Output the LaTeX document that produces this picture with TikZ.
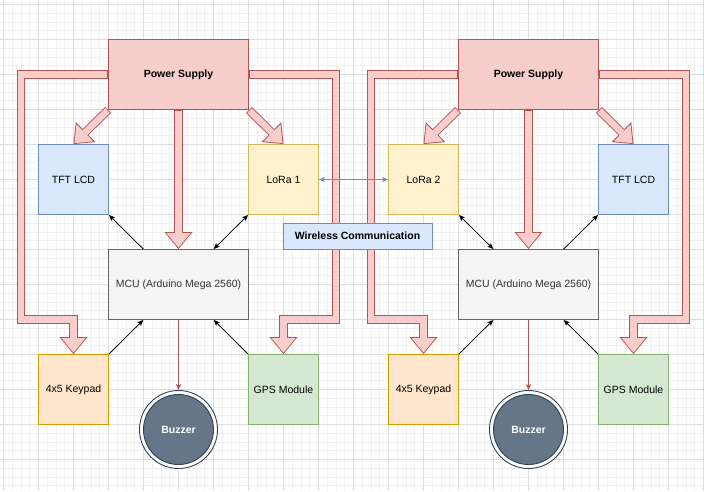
\documentclass[tikz,border=0pt]{standalone}
\usepackage{fontspec}
\setmainfont{Liberation Sans}
\usetikzlibrary{arrows.meta,calc}
\definecolor{psfill}{HTML}{F8CECC}\definecolor{psdraw}{HTML}{B85450}
\definecolor{bluefill}{HTML}{DAE8FC}\definecolor{bluedraw}{HTML}{6C8EBF}
\definecolor{yelfill}{HTML}{FFF2CC}\definecolor{yeldraw}{HTML}{D6B656}
\definecolor{orafill}{HTML}{FFE6CC}\definecolor{oradraw}{HTML}{D79B00}
\definecolor{grnfill}{HTML}{D5E8D4}\definecolor{grndraw}{HTML}{82B366}
\definecolor{mcufill}{HTML}{F5F5F5}\definecolor{mcudraw}{HTML}{666666}\definecolor{mcutext}{HTML}{333333}
\definecolor{bzfill}{HTML}{647687}\definecolor{bzdraw}{HTML}{314354}
\definecolor{gridminor}{HTML}{F0F0F0}\definecolor{gridmajor}{HTML}{DDDDDD}
\pgfdeclarelayer{gridlayer}\pgfdeclarelayer{flexlayer}
\pgfsetlayers{gridlayer,flexlayer,main}
\newcommand\flexarrow[1]{\draw[flexout] #1; \draw[flexin] #1;}
\tikzset{
  txt/.style={font=\fontsize{10.5}{12.6}\selectfont},
  box/.style={txt, draw, line width=0.9pt, minimum width=70pt, minimum height=70pt, inner sep=0pt, align=center},
  wide/.style={box, minimum width=140pt},
  psbox/.style={wide, fill=psfill, draw=psdraw, font=\fontsize{10.5}{12.6}\selectfont\bfseries},
  tftbox/.style={box, fill=bluefill, draw=bluedraw},
  lorabox/.style={box, fill=yelfill, draw=yeldraw},
  keybox/.style={box, fill=orafill, draw=oradraw},
  gpsbox/.style={box, fill=grnfill, draw=grndraw},
  mcubox/.style={wide, fill=mcufill, draw=mcudraw, text=mcutext},
  wcbox/.style={box, fill=bluefill, draw=bluedraw, minimum width=149pt, minimum height=26pt, font=\fontsize{10.5}{12.6}\selectfont\bfseries},
  bzouter/.style={circle, draw=bzdraw, fill=white, line width=0.9pt, minimum size=78pt, inner sep=0pt},
  bzinner/.style={circle, draw=bzdraw, fill=bzfill, line width=0.9pt, minimum size=70pt, inner sep=0pt, text=white, font=\fontsize{10.5}{12.6}\selectfont\bfseries},
  flexout/.style={draw=psdraw, line width=8.4pt, -{Triangle[length=17pt,width=28pt,line width=0pt]}},
  flexin/.style={draw=psfill, line width=6.6pt, shorten >=1.4pt, shorten <=0.9pt, -{Triangle[length=14.6pt,width=24pt,line width=0pt]}},
  thinarrow/.style={line width=0.8pt, -{Stealth[length=6pt,width=5pt,inset=1.5pt]}},
  twoway/.style={line width=0.8pt, {Stealth[length=6pt,width=5pt,inset=1.5pt]}-{Stealth[length=6pt,width=5pt,inset=1.5pt]}},
  gminor/.style={draw=gridminor, line width=0.6pt},
  gmajor/.style={draw=gridmajor, line width=0.7pt}
}
\begin{document}
\begin{tikzpicture}[x=1pt,y=-1pt]
\useasboundingbox (0,0) rectangle (704,491);
\begin{pgfonlayer}{gridlayer}
  \fill[white] (0,0) rectangle (704,491);
  \foreach \k in {0,...,80} \draw[gminor] ({3.5+8.75*\k},0) -- ++(0,491);
  \foreach \k in {0,...,55} \draw[gminor] (0,{4.5+8.75*\k}) -- ++(704,0);
  \foreach \k in {0,...,20} \draw[gmajor] ({3.5+35*\k},0) -- ++(0,491);
  \foreach \k in {0,...,13} \draw[gmajor] (0,{4.5+35*\k}) -- ++(704,0);
\end{pgfonlayer}

% ---- left system ----
\node[psbox] (psL) at (178.5,74.5) {Power Supply};
\node[tftbox] (tftL) at (73.5,179.5) {TFT LCD};
\node[lorabox] (loraL) at (283.5,179.5) {LoRa 1};
\node[mcubox] (mcuL) at (178.5,284.5) {MCU (Arduino Mega 2560)};
\node[keybox] (kpL) at (73.5,389.5) {4x5 Keypad};
\node[gpsbox] (gpsL) at (283.5,389.5) {GPS Module};
\node[bzouter] (bzoL) at (178.5,429.5) {};
\node[bzinner] (bzL) at (178.5,429.5) {Buzzer};

% ---- right system ----
\node[psbox] (psR) at (528.5,74.5) {Power Supply};
\node[lorabox] (loraR) at (423.5,179.5) {LoRa 2};
\node[tftbox] (tftR) at (633.5,179.5) {TFT LCD};
\node[mcubox] (mcuR) at (528.5,284.5) {MCU (Arduino Mega 2560)};
\node[keybox] (kpR) at (423.5,389.5) {4x5 Keypad};
\node[gpsbox] (gpsR) at (633.5,389.5) {GPS Module};
\node[bzouter] (bzoR) at (528.5,429.5) {};
\node[bzinner] (bzR) at (528.5,429.5) {Buzzer};

\node[wcbox] (wc) at (357.5,236) {Wireless Communication};

% corner coordinates of power routes
\coordinate (aL1) at (21,74.5);   \coordinate (aL2) at (21,319.5);   \coordinate (aL3) at (73.5,319.5);
\coordinate (bL1) at (336,74.5);  \coordinate (bL2) at (336,319.5);  \coordinate (bL3) at (283.5,319.5);
\coordinate (aR1) at (371,74.5);  \coordinate (aR2) at (371,319.5);  \coordinate (aR3) at (423.5,319.5);
\coordinate (bR1) at (686,74.5);  \coordinate (bR2) at (686,319.5);  \coordinate (bR3) at (633.5,319.5);

\begin{pgfonlayer}{flexlayer}
  \flexarrow{(psL.west) -- (aL1) -- (aL2) -- (aL3) -- (kpL.north)}
  \flexarrow{(psL.east) -- (bL1) -- (bL2) -- (bL3) -- (gpsL.north)}
  \flexarrow{(psL.south west) -- (tftL.north)}
  \flexarrow{(psL.south east) -- (loraL.north)}
  \flexarrow{(psL.south) -- (mcuL.north)}
  \flexarrow{(psR.west) -- (aR1) -- (aR2) -- (aR3) -- (kpR.north)}
  \flexarrow{(psR.east) -- (bR1) -- (bR2) -- (bR3) -- (gpsR.north)}
  \flexarrow{(psR.south west) -- (loraR.north)}
  \flexarrow{(psR.south east) -- (tftR.north)}
  \flexarrow{(psR.south) -- (mcuR.north)}
\end{pgfonlayer}

% thin connectors, left
\draw[thinarrow] ($(mcuL.north west)!0.25!(mcuL.north east)$) -- (tftL.south east);
\draw[twoway] ($(mcuL.north west)!0.75!(mcuL.north east)$) -- (loraL.south west);
\draw[thinarrow] (kpL.north east) -- ($(mcuL.south west)!0.25!(mcuL.south east)$);
\draw[thinarrow] (gpsL.north west) -- ($(mcuL.south west)!0.75!(mcuL.south east)$);
\draw[thinarrow, draw=psdraw] (mcuL.south) -- (bzoL.north);
% thin connectors, right
\draw[twoway] ($(mcuR.north west)!0.25!(mcuR.north east)$) -- (loraR.south east);
\draw[thinarrow] ($(mcuR.north west)!0.75!(mcuR.north east)$) -- (tftR.south west);
\draw[thinarrow] (kpR.north east) -- ($(mcuR.south west)!0.25!(mcuR.south east)$);
\draw[thinarrow] (gpsR.north west) -- ($(mcuR.south west)!0.75!(mcuR.south east)$);
\draw[thinarrow, draw=psdraw] (mcuR.south) -- (bzoR.north);
% wireless link
\draw[twoway, draw=bluedraw] (loraL.east) -- (loraR.west);
\end{tikzpicture}
\end{document}
